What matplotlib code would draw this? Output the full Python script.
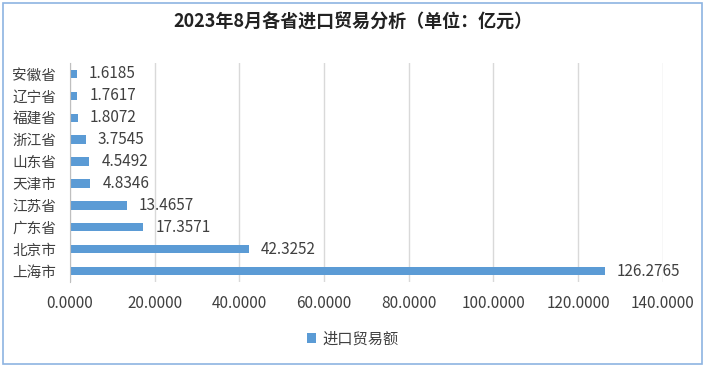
import matplotlib
matplotlib.use("Agg")
import matplotlib.pyplot as plt
from matplotlib.patches import Rectangle, Patch

plt.rcParams['font.family'] = ['Noto Sans CJK SC', 'DejaVu Sans']

title = "2023年8月各省进口贸易分析（单位：亿元）"
categories = ["上海市", "北京市", "广东省", "江苏省", "天津市", "山东省", "浙江省", "福建省", "辽宁省", "安徽省"]
values = [126.2765, 42.3252, 17.3571, 13.4657, 4.8346, 4.5492, 3.7545, 1.8072, 1.7617, 1.6185]
series_name = "进口贸易额"
xticks = [0, 20, 40, 60, 80, 100, 120, 140]

bar_color = "#5B9BD5"
text_color = "#404040"

fig = plt.figure(figsize=(7.06, 3.67), dpi=100)
ax = fig.add_axes([70/706, 1-282/367, (662.7-70)/706, (282-63)/367])

y = list(range(len(categories)))
ax.barh(y, values, height=0.38, color=bar_color, zorder=3)
ax.set_ylim(-0.5, len(categories)-0.5)
ax.set_xlim(0, 140)
ax.set_yticks(y)
ax.set_yticklabels(categories, fontsize=10.5, color=text_color)
ax.set_xticks(xticks)
ax.set_xticklabels([f"{t:.4f}" for t in xticks], fontsize=11, color=text_color)
ax.tick_params(axis='y', length=0, pad=10)
ax.tick_params(axis='x', length=0, pad=9)
ax.grid(axis='x', color="#D9D9D9", linewidth=1, zorder=0)
for s in ['top', 'right', 'bottom']:
    ax.spines[s].set_visible(False)
ax.spines['left'].set_color("#BFBFBF")
ax.spines['left'].set_zorder(4)

for yi, v in zip(y, values):
    ax.annotate(f"{v:.4f}", xy=(v, yi), xytext=(12*72/100, 0), textcoords='offset points',
                va='center', ha='left', fontsize=11, color=text_color)

fig.text(353/706, 1-22/367, title, ha='center', va='center', fontsize=13,
         fontweight='bold', color="#222222")

handle = Patch(facecolor=bar_color, edgecolor='none')
fig.legend([handle], [series_name], loc='center', bbox_to_anchor=(353/706, 1-339/367),
           frameon=False, fontsize=11, handlelength=0.6, handleheight=0.6,
           handletextpad=0.4, labelcolor=text_color)

fig.patches.append(Rectangle((3/706, 3/367), 699/706, 361/367, transform=fig.transFigure,
                             fill=False, edgecolor="#8DB4E2", linewidth=1.2))

fig.savefig("out.png", dpi=100)
